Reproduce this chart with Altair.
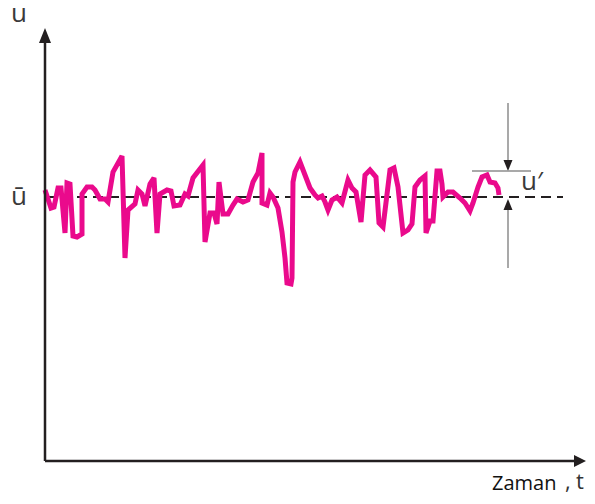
import altair as alt
import pandas as pd

# Signal samples: time t and velocity u (axis origin at t=0, u=0)
sig_t = [0, 6, 9, 13, 16, 20, 22, 25, 28, 32, 37, 37, 42, 47, 50, 55, 60, 63, 68, 77, 80, 83,
         90, 93, 97, 100, 105, 109, 112, 115, 122, 126, 129, 135, 140, 143, 148, 158, 160, 165,
         169, 172, 174, 178, 183, 188, 192, 198, 203, 208, 213, 217, 217, 222, 225, 228, 233,
         237, 240, 242, 246, 247, 248, 250, 255, 260, 265, 270, 273, 277, 280, 283, 287, 292,
         297, 303, 307, 311, 316, 320, 325, 331, 334, 338, 345, 349, 353, 358, 363, 367, 370,
         375, 380, 381, 385, 388, 392, 395, 397, 398, 403, 408, 415, 420, 425, 428, 433, 437,
         442, 445, 450, 453, 454]
sig_u = [271, 253, 254, 273, 273, 228, 278, 277, 225, 224, 227, 267, 274, 274, 271, 262, 262,
         259, 289, 305, 203, 251, 257, 271, 267, 255, 277, 283, 228, 267, 271, 270, 255, 256,
         267, 265, 283, 296, 219, 248, 248, 237, 279, 247, 247, 256, 262, 259, 261, 279, 288,
         308, 258, 256, 268, 264, 253, 229, 203, 178, 177, 183, 279, 289, 299, 286, 273, 266,
         263, 265, 259, 251, 261, 264, 258, 281, 273, 269, 239, 286, 291, 284, 238, 234, 291,
         293, 274, 228, 231, 237, 274, 281, 285, 228, 240, 240, 290, 290, 277, 264, 269, 269,
         263, 258, 250, 258, 274, 284, 286, 279, 278, 273, 266]
u_mean = 264

PINK = "#EA0A8C"
DARK = "#231F20"
GREY = "#8C8C8C"
FONT = "Open Sans"

sig = pd.DataFrame({"t": sig_t, "u": sig_u, "i": list(range(len(sig_t)))})

xs = alt.Scale(domain=[-37, 542])
ys = alt.Scale(domain=[-35, 453])

def X(v):
    return alt.X(v, scale=xs, axis=None) if isinstance(v, str) else alt.datum(v, scale=xs, axis=None)

def Y(v):
    return alt.Y(v, scale=ys, axis=None) if isinstance(v, str) else alt.datum(v, scale=ys, axis=None)

base = alt.Chart(pd.DataFrame({"d": [0]}))

def seg(x1, y1, x2, y2, color, width, dash=None):
    kw = dict(color=color, strokeWidth=width)
    if dash:
        kw["strokeDash"] = dash
    return base.mark_rule(**kw).encode(x=X(x1), y=Y(y1), x2=alt.datum(x2), y2=alt.datum(y2))

def head(x, y, path, color):
    return base.mark_point(shape=path, size=4, filled=True, opacity=1, color=color,
                           strokeWidth=0).encode(x=X(x), y=Y(y))

def label(x, y, txt, size, align="center", font=FONT, color="#3a3a3a"):
    return base.mark_text(text=txt, fontSize=size, font=font, align=align,
                          baseline="alphabetic", color=color).encode(x=X(x), y=Y(y))

# axes
yaxis = seg(0, 0, 0, 420, DARK, 2.5)
yhead = head(0, 433, "M0,0L6,15L-6,15Z", DARK)
xaxis = seg(0, 0, 532, 0, DARK, 2.5)
xhead = head(541, 0, "M0,0L-12,-6L-12,6Z", DARK)

mean_line = seg(0, u_mean, 518, u_mean, DARK, 2, [10, 6])

line = alt.Chart(sig).mark_line(color=PINK, strokeWidth=5, strokeJoin="miter",
                                strokeMiterLimit=3).encode(
    x=X("t:Q"), y=Y("u:Q"), order="i:Q")

# u' annotation
a1 = seg(463, 358, 463, 300, GREY, 1.5)
h1 = head(463, 290, "M0,0L-4.5,-11L4.5,-11Z", DARK)
hline = seg(427, 290, 486, 290, GREY, 1.5)
a2 = seg(463, 193, 463, 252, GREY, 1.5)
h2 = head(463, 262, "M0,0L-4.5,11L4.5,11Z", DARK)

texts = (label(-26, 439, "u", 26)
         + label(-26, 256, "ū", 26)
         + label(476, 271, "u′", 26, align="left")
         + label(447, -29, "Zaman", 20, align="left", color="#111111")
         + label(520, -28, ",", 22, align="left", color="#333333")
         + label(531, -28, "t", 22, align="left", color="#333333"))

chart = alt.layer(mean_line, line, yaxis, yhead, xaxis, xhead, a1, h1, hline, a2, h2, texts).properties(
    width=579, height=488, padding=0, autosize=alt.AutoSizeParams(type="none")
).configure_view(stroke=None)

chart.save("out.html", embed_options={"renderer": "svg", "actions": False})
